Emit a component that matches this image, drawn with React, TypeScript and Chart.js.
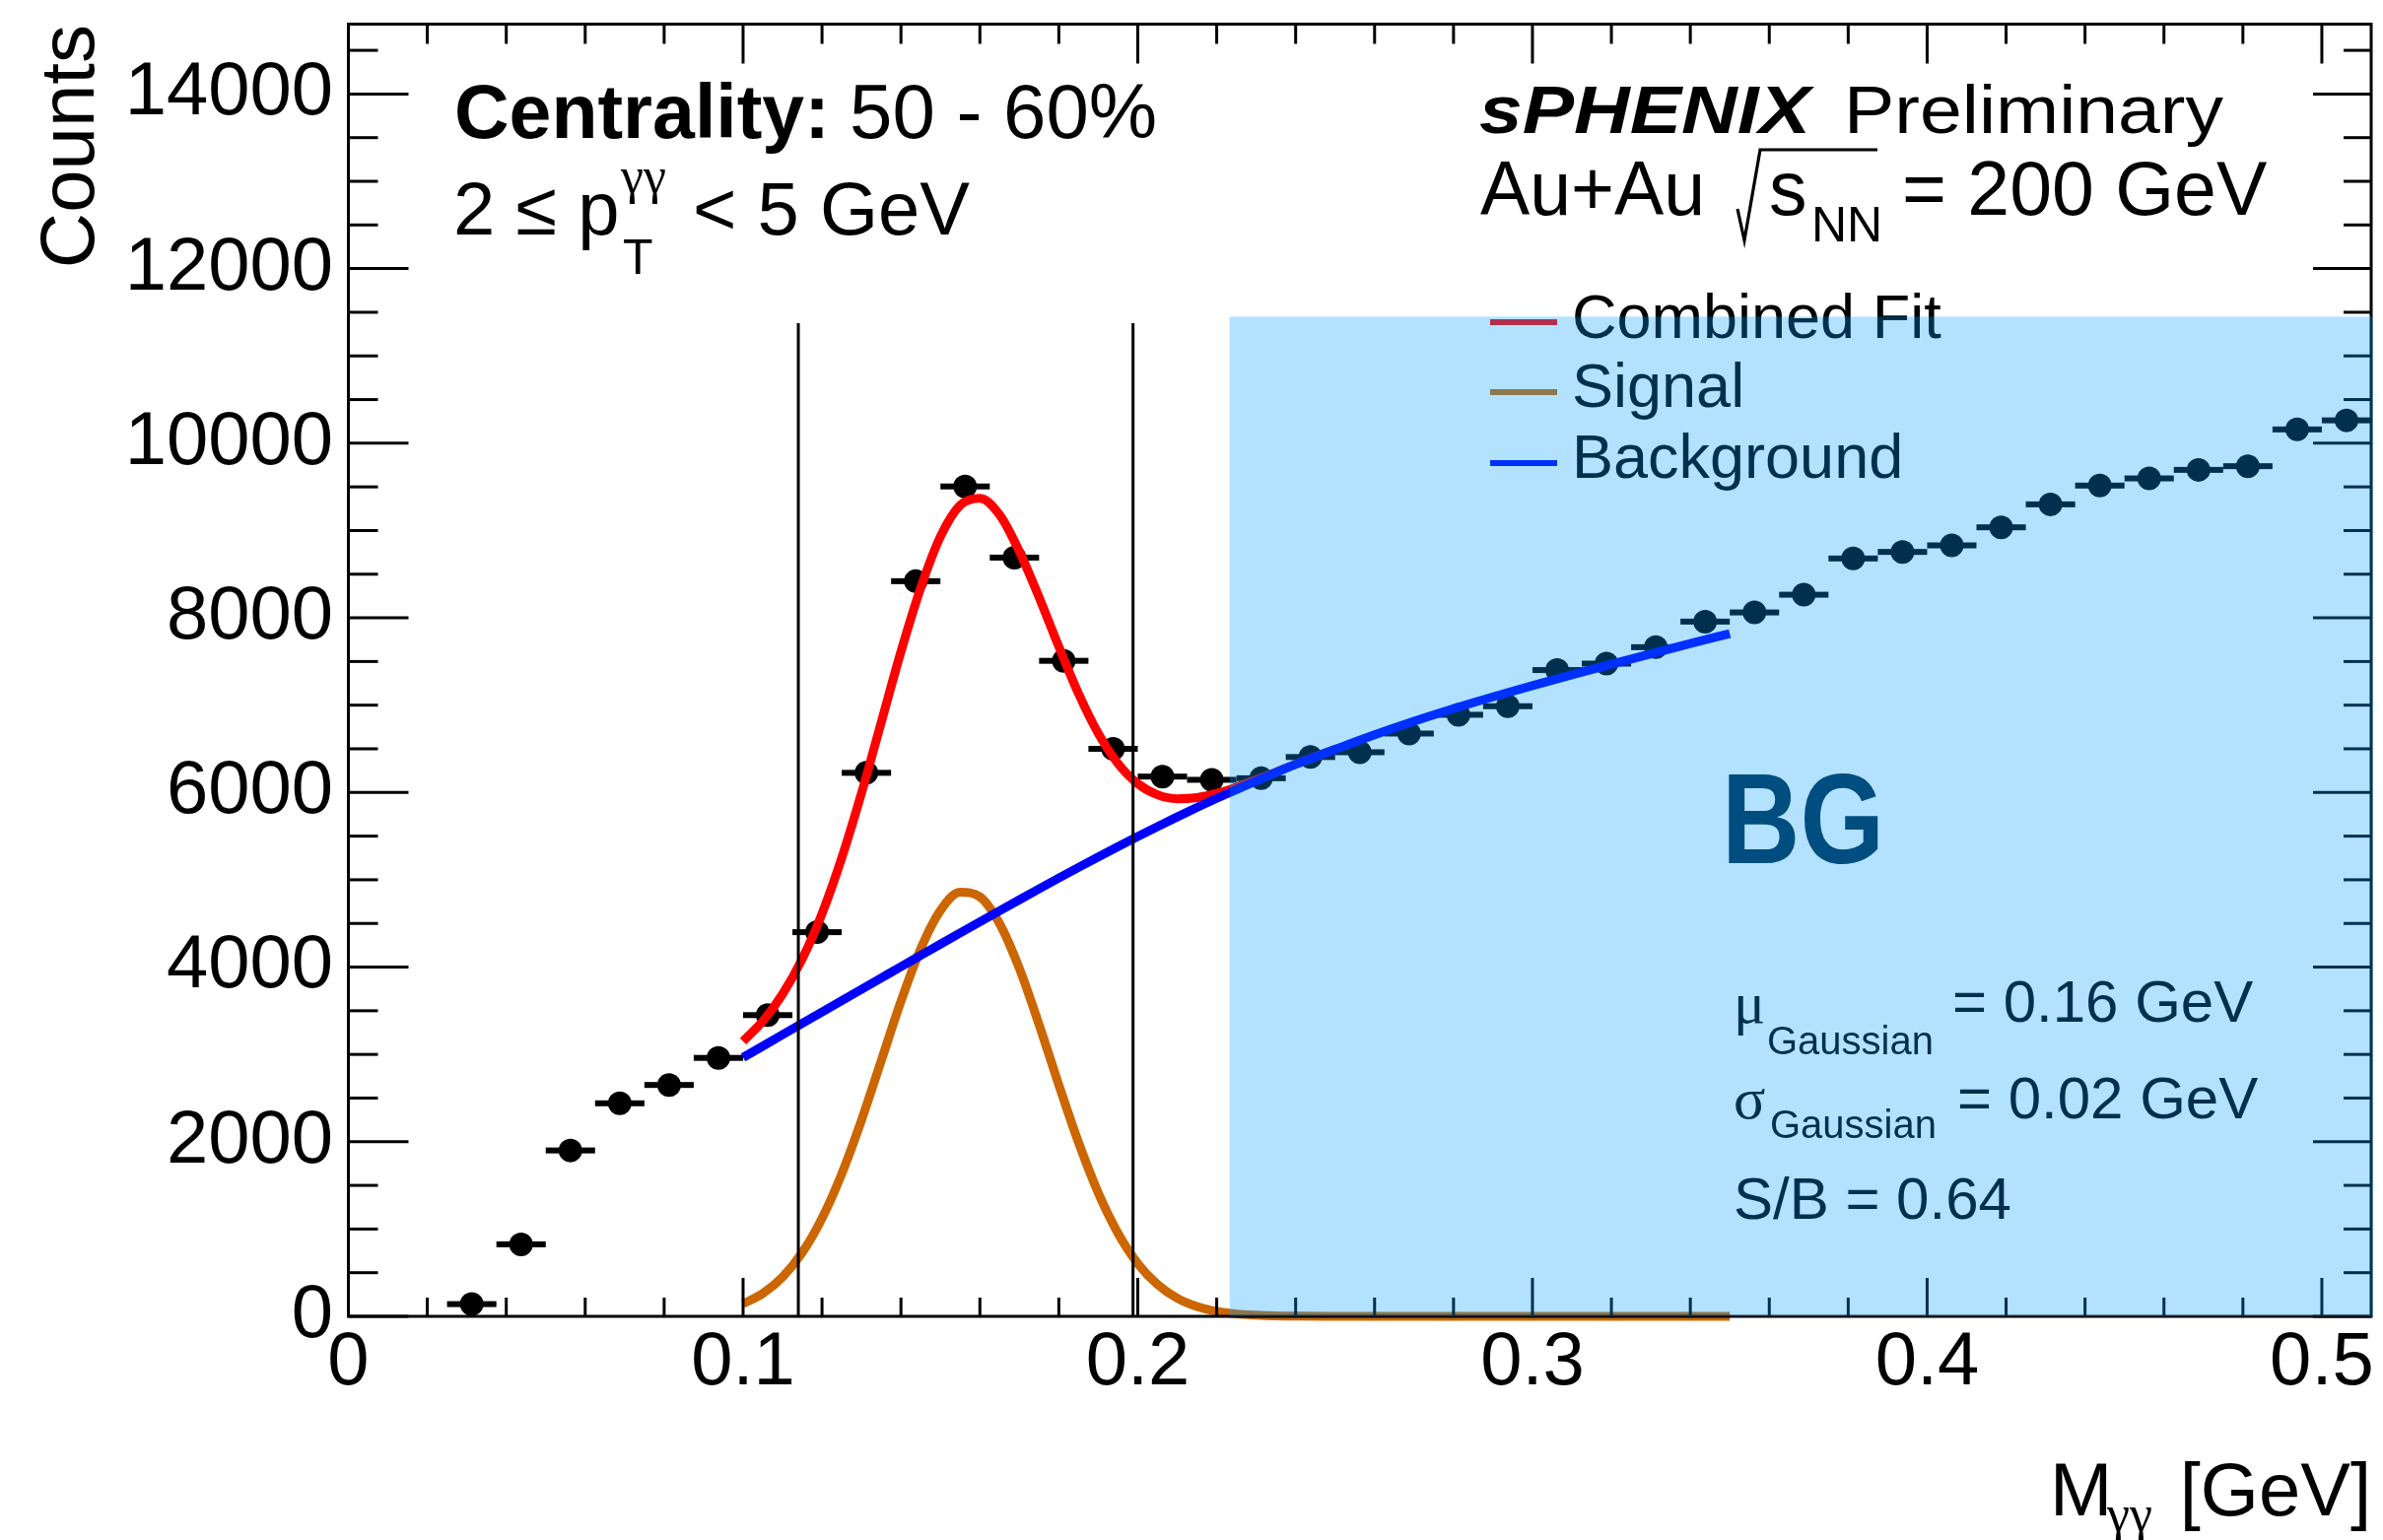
import React, { useEffect, useRef } from "react";
import { Chart, registerables } from "chart.js";

Chart.register(...registerables);

const W = 2418;
const H = 1563;

// ---- Data: invariant-mass histogram (bin centres, GeV) ----
const binCenters = [
  0.03125, 0.04375, 0.05625, 0.06875, 0.08125, 0.09375, 0.10625, 0.11875, 0.13125, 0.14375,
  0.15625, 0.16875, 0.18125, 0.19375, 0.20625, 0.21875, 0.23125, 0.24375, 0.25625, 0.26875,
  0.28125, 0.29375, 0.30625, 0.31875, 0.33125, 0.34375, 0.35625, 0.36875, 0.38125, 0.39375,
  0.40625, 0.41875, 0.43125, 0.44375, 0.45625, 0.46875, 0.48125, 0.49375, 0.50625,
];
const counts = [
  140, 825, 1900, 2440, 2650, 2960, 3450, 4400, 6225, 8420,
  9505, 8690, 7508, 6500, 6182, 6145, 6163, 6406, 6461, 6675,
  6890, 6988, 7402, 7476, 7664, 7957, 8062, 8265, 8680, 8755,
  8830, 9037, 9300, 9515, 9597, 9695, 9737, 10158, 10262,
];
const binHalfWidth = 0.00625;

// ---- Fit curves ----
const fitX = [
  0.1, 0.105, 0.11, 0.115, 0.12, 0.125, 0.13, 0.135, 0.14, 0.145,
  0.15, 0.155, 0.16, 0.165, 0.17, 0.175, 0.18, 0.185, 0.19, 0.195,
  0.2, 0.205, 0.21, 0.215, 0.22, 0.225, 0.23, 0.235, 0.24, 0.25,
  0.26, 0.27, 0.28, 0.29, 0.3, 0.31, 0.32, 0.33, 0.34, 0.35,
];
const signalY = [
  144, 262, 450, 730, 1122, 1632, 2246, 2927, 3608, 4209,
  4648, 4858, 4805, 4497, 3984, 3340, 2650, 1990, 1414, 951,
  605, 365, 208, 113, 57, 27, 13, 5, 2, 0,
  0, 0, 0, 0, 0, 0, 0, 0, 0, 0,
];
const backgroundY = [
  2965, 3095, 3225, 3355, 3485, 3615, 3745, 3875, 4005, 4134,
  4263, 4391, 4518, 4645, 4771, 4896, 5020, 5142, 5262, 5380,
  5496, 5609, 5720, 5828, 5933, 6034, 6133, 6229, 6322, 6494,
  6661, 6816, 6960, 7095, 7224, 7348, 7469, 7588, 7705, 7820,
];
const combinedX = [
  0.1, 0.105, 0.11, 0.115, 0.12, 0.125, 0.13, 0.135, 0.14, 0.145,
  0.15, 0.155, 0.16, 0.165, 0.17, 0.175, 0.18, 0.185, 0.19, 0.195,
  0.2, 0.205, 0.21, 0.215, 0.22, 0.225, 0.23, 0.235, 0.24, 0.25,
];
const combinedY = [
  3150, 3380, 3690, 4095, 4612, 5250, 5991, 6802, 7613, 8343,
  8930, 9290, 9370, 9180, 8760, 8236, 7670, 7132, 6676, 6331,
  6101, 5974, 5928, 5941, 5990, 6061, 6146, 6234, 6324, 6494,
];

// signal window lines (x in GeV) and their height
const windowLinesX = [0.114, 0.1988];
const windowLineTop = 11375;

// background-region shading
const bgRegionStart = 0.2233;
const bgRegionTop = 11450;

// axes
const xMin = 0;
const xMax = 0.5125;
const yMin = 0;
const yMax = 14800;
const xTickValues = [0, 0.1, 0.2, 0.3, 0.4, 0.5];
const xTickLabels = ["0", "0.1", "0.2", "0.3", "0.4", "0.5"];
const yTickValues = [0, 2000, 4000, 6000, 8000, 10000, 12000, 14000];
const yTickLabels = ["0", "2000", "4000", "6000", "8000", "10000", "12000", "14000"];

const legendLabels = ["Combined Fit", "Signal", "Background"];
const legendColors = ["#ff0000", "#cc6600", "#0000ff"];

const SANS = '"Liberation Sans", Arial, Helvetica, sans-serif';
const SERIF = '"Liberation Serif", "Times New Roman", serif';

function drawText(
  ctx: CanvasRenderingContext2D,
  s: string,
  x: number,
  y: number,
  font: string,
  opts: { align?: CanvasTextAlign; color?: string; width?: number } = {}
) {
  ctx.save();
  ctx.font = font;
  ctx.fillStyle = opts.color ?? "#000";
  ctx.textAlign = opts.align ?? "left";
  ctx.textBaseline = "alphabetic";
  if (opts.width) {
    const w0 = ctx.measureText(s).width;
    ctx.translate(x, y);
    ctx.scale(opts.width / w0, 1);
    ctx.fillText(s, 0, 0);
  } else {
    ctx.fillText(s, x, y);
  }
  ctx.restore();
}

function line(ctx: CanvasRenderingContext2D, x1: number, y1: number, x2: number, y2: number) {
  ctx.beginPath();
  ctx.moveTo(x1, y1);
  ctx.lineTo(x2, y2);
  ctx.stroke();
}

const decorPlugin = {
  id: "decor",
  beforeDatasetsDraw(chart: any) {
    const ctx: CanvasRenderingContext2D = chart.ctx;
    const xs = chart.scales.x;
    const ys = chart.scales.y;
    ctx.save();
    ctx.fillStyle = "#000";
    for (let i = 0; i < binCenters.length; i++) {
      const x1 = xs.getPixelForValue(binCenters[i] - binHalfWidth);
      const x2 = xs.getPixelForValue(binCenters[i] + binHalfWidth);
      const y = ys.getPixelForValue(counts[i]);
      ctx.fillRect(x1, y - 3, x2 - x1, 6);
    }
    ctx.restore();
  },
  afterDraw(chart: any) {
    const ctx: CanvasRenderingContext2D = chart.ctx;
    const xs = chart.scales.x;
    const ys = chart.scales.y;
    const { left, right, top, bottom } = chart.chartArea;

    ctx.save();
    ctx.strokeStyle = "#000";
    ctx.lineWidth = 3;
    ctx.lineCap = "butt";
    // frame
    ctx.strokeRect(left, top, right - left, bottom - top);
    // y ticks (left + right)
    for (let i = 0; ; i++) {
      const v = i * 500;
      if (v > yMax) break;
      const p = ys.getPixelForValue(v);
      const major = i % 4 === 0;
      line(ctx, left, p, left + (major ? 61 : 30), p);
      line(ctx, right, p, right - (major ? 59 : 28), p);
    }
    // x ticks (bottom + top)
    for (let i = 0; ; i++) {
      const v = i * 0.02;
      if (v > xMax + 1e-9) break;
      const p = xs.getPixelForValue(v);
      const major = i % 5 === 0;
      line(ctx, p, bottom, p, bottom - (major ? 39 : 19));
      line(ctx, p, top, p, top + (major ? 40 : 20));
    }
    ctx.restore();

    // legend
    const legendY = [327, 398, 470];
    const legendBase = [343, 413, 485];
    ctx.save();
    ctx.lineWidth = 6;
    for (let i = 0; i < legendLabels.length; i++) {
      ctx.strokeStyle = legendColors[i];
      line(ctx, 1512, legendY[i], 1580, legendY[i]);
      drawText(ctx, legendLabels[i], 1595, legendBase[i], `63px ${SANS}`);
    }
    ctx.restore();

    // top-left texts
    drawText(ctx, "Centrality:", 461, 140, `bold 77px ${SANS}`);
    drawText(ctx, "50 - 60%", 862, 140, `78px ${SANS}`);
    drawText(ctx, "2 \u2264 p", 460, 238, `76px ${SANS}`);
    drawText(ctx, "T", 632, 278, `50px ${SANS}`);
    drawText(ctx, "\u03b3\u03b3", 630, 196, `52px ${SERIF}`);
    drawText(ctx, "< 5 GeV", 703, 238, `76px ${SANS}`);

    // top-right texts
    drawText(ctx, "sPHENIX", 1501, 135, `italic bold 68px ${SANS}`, { width: 336 });
    drawText(ctx, "Preliminary", 1871, 135, `68px ${SANS}`, { width: 385 });
    drawText(ctx, "Au+Au", 1502, 218, `77px ${SANS}`, { width: 228 });
    ctx.save();
    ctx.strokeStyle = "#000";
    ctx.lineWidth = 3.2;
    ctx.lineJoin = "miter";
    ctx.beginPath();
    ctx.moveTo(1763, 212);
    ctx.lineTo(1770, 244);
    ctx.lineTo(1786, 152);
    ctx.lineTo(1905, 152);
    ctx.stroke();
    ctx.restore();
    drawText(ctx, "s", 1795, 218, `77px ${SANS}`);
    drawText(ctx, "NN", 1838, 245, `50px ${SANS}`);
    drawText(ctx, "= 200 GeV", 1930, 218, `77px ${SANS}`);

    // fit parameter texts
    drawText(ctx, "\u03bc", 1759, 1038, `60px ${SERIF}`);
    drawText(ctx, "Gaussian", 1793, 1070, `40px ${SANS}`);
    drawText(ctx, "= 0.16 GeV", 1981, 1037, `60px ${SANS}`);
    drawText(ctx, "\u03c3", 1759, 1135, `60px ${SERIF}`);
    drawText(ctx, "Gaussian", 1796, 1155, `40px ${SANS}`);
    drawText(ctx, "= 0.02 GeV", 1986, 1135, `60px ${SANS}`);
    drawText(ctx, "S/B = 0.64", 1759, 1237, `60px ${SANS}`);

    // axis titles
    ctx.save();
    ctx.translate(95, 25);
    ctx.rotate(-Math.PI / 2);
    drawText(ctx, "Counts", 0, 0, `78px ${SANS}`, { align: "right" });
    ctx.restore();
    drawText(ctx, "M", 2080, 1538, `76px ${SANS}`);
    drawText(ctx, "\u03b3\u03b3", 2138, 1554, `52px ${SERIF}`);
    drawText(ctx, "[GeV]", 2406, 1538, `76px ${SANS}`, { align: "right" });

    // background region shading
    ctx.save();
    ctx.fillStyle = "rgba(0,160,255,0.3)";
    const bx = xs.getPixelForValue(bgRegionStart);
    const by = ys.getPixelForValue(bgRegionTop);
    const b0 = ys.getPixelForValue(0);
    ctx.fillRect(bx, by, right + 2 - bx, b0 - by);
    ctx.restore();

    drawText(ctx, "BG", 1747, 876, `bold 130px ${SANS}`, { width: 165, color: "#004d80" });
  },
};

export default function App() {
  const ref = useRef<HTMLCanvasElement>(null);

  useEffect(() => {
    const canvas = ref.current;
    if (!canvas) return;
    Chart.defaults.font.family = SANS;
    Chart.defaults.color = "#000";

    const lineDs = (label: string, xsArr: number[], ysArr: number[], color: string, order: number) => ({
      type: "line" as const,
      label,
      data: xsArr.map((x, i) => ({ x, y: ysArr[i] })),
      borderColor: color,
      backgroundColor: color,
      borderWidth: 9,
      pointRadius: 0,
      fill: false,
      showLine: true,
      cubicInterpolationMode: "monotone" as const,
      borderJoinStyle: "round" as const,
      clip: false as any,
      order,
    });

    const chart = new Chart(canvas, {
      type: "line",
      data: {
        datasets: [
          {
            label: "Data",
            data: binCenters.map((x, i) => ({ x, y: counts[i] })),
            showLine: false,
            pointRadius: 12,
            pointBorderWidth: 0,
            pointBackgroundColor: "#000",
            pointBorderColor: "#000",
            order: 10,
          } as any,
          lineDs("Signal", fitX, signalY, "#cc6600", 8),
          lineDs("Combined Fit", combinedX, combinedY, "#ff0000", 6),
          lineDs("Background", fitX, backgroundY, "#0000ff", 4),
          ...windowLinesX.map((x) => ({
            type: "line" as const,
            label: "window",
            data: [
              { x, y: 0 },
              { x, y: windowLineTop },
            ],
            borderColor: "#000",
            borderWidth: 3,
            pointRadius: 0,
            fill: false,
            order: 2,
          })),
        ],
      },
      options: {
        animation: false,
        responsive: false,
        devicePixelRatio: 1,
        events: [],
        layout: { padding: { top: 24.5, right: 12, left: 0, bottom: 0 } },
        plugins: {
          legend: { display: false },
          tooltip: { enabled: false },
          title: { display: false },
        },
        scales: {
          x: {
            type: "linear",
            min: xMin,
            max: xMax,
            grid: { display: false, drawTicks: false },
            border: { display: false },
            afterBuildTicks: (scale: any) => {
              scale.ticks = xTickValues.map((v) => ({ value: v }));
            },
            ticks: {
              autoSkip: false,
              maxRotation: 0,
              padding: 2,
              font: { size: 76, family: SANS, lineHeight: 1.2 },
              color: "#000",
              callback: (_v: any, i: number) => xTickLabels[i],
            },
            afterFit: (scale: any) => {
              scale.height = 227;
              scale.paddingLeft = 0;
              scale.paddingRight = 0;
            },
          },
          y: {
            type: "linear",
            min: yMin,
            max: yMax,
            grid: { display: false, drawTicks: false },
            border: { display: false },
            afterBuildTicks: (scale: any) => {
              scale.ticks = yTickValues.map((v) => ({ value: v }));
            },
            ticks: {
              autoSkip: false,
              padding: 15.5,
              font: { size: 76, family: SANS },
              color: "#000",
              callback: (_v: any, i: number) => yTickLabels[i],
            },
            afterFit: (scale: any) => {
              scale.width = 353.5;
              scale.paddingTop = 0;
              scale.paddingBottom = 0;
            },
          },
        },
      } as any,
      plugins: [decorPlugin],
    });

    return () => chart.destroy();
  }, []);

  return (
    <div style={{ position: "absolute", left: 0, top: 0, width: W, height: H, background: "#fff" }}>
      <canvas ref={ref} width={W} height={H} style={{ width: W, height: H, display: "block" }} />
    </div>
  );
}
